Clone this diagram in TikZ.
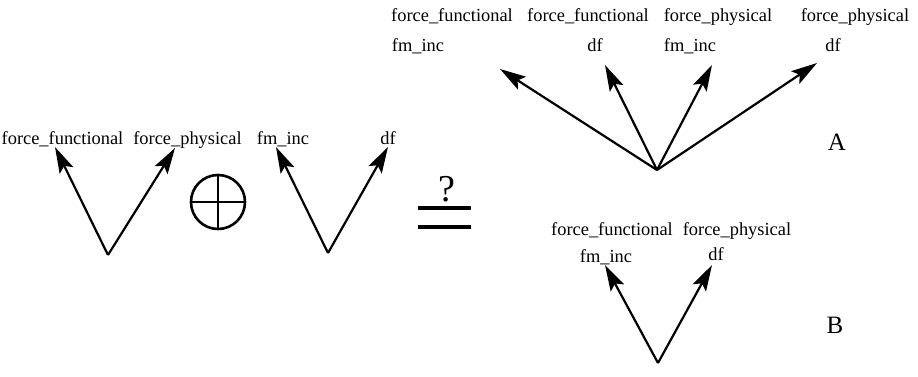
\documentclass[tikz,border=0pt]{standalone}
\usepackage{fontspec}
\setmainfont{Liberation Serif}
\usetikzlibrary{arrows.meta,positioning}

\begin{document}
\begin{tikzpicture}[
  x=0.5pt, y=-0.5pt,
  every node/.style={font=\fontsize{9.2}{11}\selectfont, inner sep=0pt, anchor=base},
  lbl/.style={},
  tag/.style={font=\fontsize{12.5}{14}\selectfont},
  a/.style={-{Stealth[length=13pt,width=7.5pt,inset=2.5pt]}, line width=1.1pt},
  eqline/.style={line width=1.6pt}
]
\useasboundingbox (0,0) rectangle (918,376);

\node[lbl] (ffl) at (62.5,144) {force\_functional};
\node[lbl] (fpl) at (187.5,144) {force\_physical};
\node[lbl] (fml) at (283,144) {fm\_inc};
\node[lbl] (dfl) at (388,144) {df};

\coordinate (vone) at (108,255);
\coordinate (vonel) at (55,147);
\coordinate (voner) at (175,148);
\draw[a] (vone) -- (vonel);
\draw[a] (vone) -- (voner);

\node[circle, draw, line width=1.3pt, minimum size=27pt] (oplus) at (218,202) {};
\draw[line width=1.3pt] (oplus.north) -- (oplus.south);
\draw[line width=1.3pt] (oplus.west) -- (oplus.east);

\coordinate (vtwo) at (328,253);
\coordinate (vtwol) at (276,147);
\coordinate (vtwor) at (388,147);
\draw[a] (vtwo) -- (vtwol);
\draw[a] (vtwo) -- (vtwor);

\node[font=\fontsize{19}{21}\selectfont] (q) at (447,201) {?};
\coordinate (eqa) at (418,208);
\coordinate (eqb) at (418,227);
\draw[eqline] (eqa) -- ++(53,0);
\draw[eqline] (eqb) -- ++(53,0);

% result A
\node[lbl] (aff) at (452,21) {force\_functional};
\node[lbl] (afm) at (418,51) {fm\_inc};
\node[lbl] (aff2) at (588,21) {force\_functional};
\node[lbl] (adf) at (595,51) {df};
\node[lbl] (afp) at (718,21) {force\_physical};
\node[lbl] (afm2) at (690,51) {fm\_inc};
\node[lbl] (afp2) at (855,21) {force\_physical};
\node[lbl] (adf2) at (833,51) {df};

\coordinate (va) at (657,170);
\coordinate (va1) at (500,69);
\coordinate (va2) at (605,65);
\coordinate (va3) at (712,65);
\coordinate (va4) at (817,63);
\foreach \t in {va1,va2,va3,va4}
  \draw[a] (va) -- (\t);
\node[tag] (taga) at (837,150) {A};

% result B
\node[lbl] (bff) at (612,235) {force\_functional};
\node[lbl] (bfm) at (606,262) {fm\_inc};
\node[lbl] (bfp) at (737,235) {force\_physical};
\node[lbl] (bdf) at (716,260) {df};

\coordinate (vb) at (658,363);
\coordinate (vbl) at (605,265);
\coordinate (vbr) at (712,265);
\draw[a] (vb) -- (vbl);
\draw[a] (vb) -- (vbr);
\node[tag] (tagb) at (835,333) {B};
\end{tikzpicture}
\end{document}
